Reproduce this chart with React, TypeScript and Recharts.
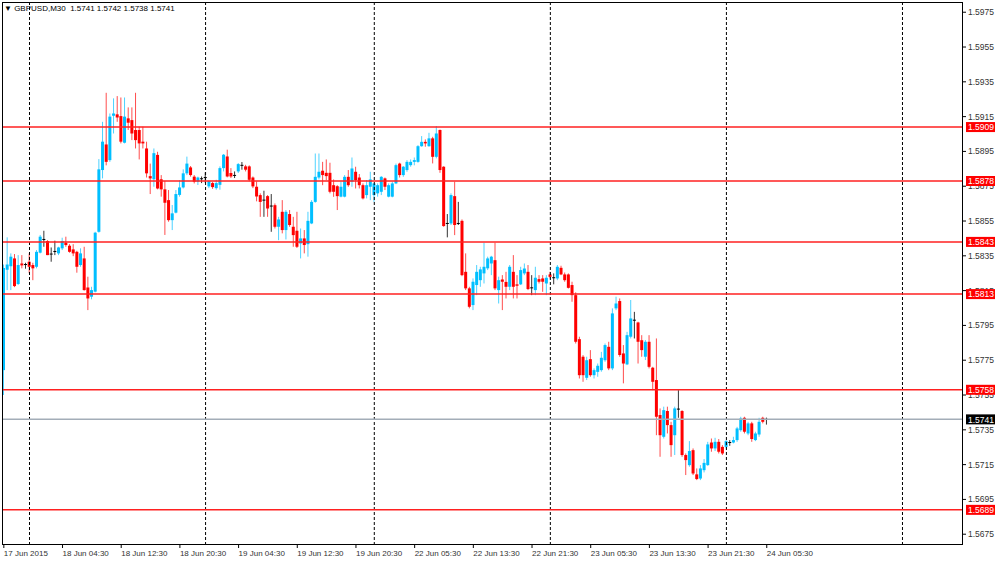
import React from 'react';
import { ComposedChart, Bar, XAxis, YAxis, ReferenceLine } from 'recharts';

const FONT = '"Liberation Sans", Arial, sans-serif';

// M30 bars, 17 Jun 2015 20:30 .. 24 Jun 2015 05:30
const open = [
  1.57693, 1.5827, 1.5829, 1.58335, 1.58188, 1.58306, 1.583, 1.58316, 1.58297, 1.58287,
  1.58368, 1.58444, 1.58435, 1.5836, 1.58375, 1.58364, 1.58393, 1.58425, 1.58408, 1.58387,
  1.58373, 1.58297, 1.58335, 1.58168, 1.58115, 1.58144, 1.58488, 1.58843, 1.5899, 1.589,
  1.59155, 1.59163, 1.59153, 1.59, 1.5914, 1.5913, 1.59073, 1.59073, 1.59006, 1.58967,
  1.58808, 1.5879, 1.5893, 1.5879, 1.58732, 1.5867, 1.58555, 1.58598, 1.587, 1.58743,
  1.58824, 1.58858, 1.58805, 1.58776, 1.58793, 1.588, 1.58749, 1.58768, 1.58739, 1.58758,
  1.58854, 1.58921, 1.58826, 1.58812, 1.58835, 1.5887, 1.58864, 1.58864, 1.588, 1.58747,
  1.58699, 1.5867, 1.58693, 1.58636, 1.58641, 1.58517, 1.58603, 1.58498, 1.5859, 1.58517,
  1.58494, 1.58421, 1.5845, 1.58417, 1.58536, 1.5866, 1.588, 1.58839, 1.58827, 1.58827,
  1.58756, 1.5875, 1.5869, 1.5869, 1.58804, 1.58776, 1.58833, 1.588, 1.58756, 1.58699,
  1.58747, 1.58699, 1.58709, 1.58718, 1.58795, 1.5869, 1.5869, 1.58766, 1.5888, 1.58814,
  1.58843, 1.58871, 1.5889, 1.5889, 1.5898, 1.59005, 1.5898, 1.59025, 1.58919, 1.59073,
  1.58862, 1.58536, 1.58536, 1.58693, 1.58536, 1.58551, 1.58258, 1.58163, 1.58067, 1.58182,
  1.5821, 1.58249, 1.58278, 1.58306, 1.58325, 1.58153, 1.58214, 1.582, 1.58172, 1.58258,
  1.58186, 1.58186, 1.58249, 1.58258, 1.58166, 1.58153, 1.58216, 1.5822, 1.58191, 1.58243,
  1.58224, 1.5822, 1.58281, 1.58243, 1.58243, 1.58182, 1.58124, 1.57871, 1.5777, 1.57649,
  1.57756, 1.57664, 1.57683, 1.57693, 1.5775, 1.57827, 1.57703, 1.58048, 1.5809, 1.57789,
  1.57726, 1.57885, 1.5798, 1.57967, 1.57865, 1.5777, 1.57856, 1.57707, 1.57636, 1.57435,
  1.5731, 1.57458, 1.57377, 1.57319, 1.57469, 1.57458, 1.57205, 1.57147, 1.57233, 1.57094,
  1.5707, 1.57118, 1.57147, 1.57277, 1.57243, 1.57281, 1.57252, 1.57252, 1.57277, 1.57277,
  1.57291, 1.57348, 1.57419, 1.57329, 1.57387, 1.57291, 1.57323, 1.57419, 1.5741,
];

const high = [
  1.583, 1.58456, 1.58364, 1.5836, 1.58354, 1.58354, 1.5831, 1.58364, 1.5831, 1.58383,
  1.5847, 1.58494, 1.5844, 1.58398, 1.58437, 1.58402, 1.58454, 1.5846, 1.58417, 1.58417,
  1.58379, 1.58393, 1.58402, 1.5823, 1.58172, 1.58488, 1.58906, 1.5912, 1.59287, 1.59168,
  1.59255, 1.59268, 1.5926, 1.5926, 1.59203, 1.59203, 1.59287, 1.59092, 1.59092, 1.59006,
  1.5888, 1.58967, 1.58948, 1.58814, 1.5878, 1.58728, 1.58642, 1.58728, 1.58785, 1.58847,
  1.5892, 1.58866, 1.58814, 1.58805, 1.58806, 1.5883, 1.58782, 1.58774, 1.58787, 1.58864,
  1.58935, 1.5896, 1.58854, 1.58835, 1.58883, 1.58889, 1.58873, 1.5887, 1.58806, 1.58778,
  1.58709, 1.58724, 1.58699, 1.58705, 1.58651, 1.58574, 1.5867, 1.58613, 1.58613, 1.58574,
  1.58603, 1.58507, 1.58498, 1.58603, 1.5867, 1.58938, 1.58938, 1.5889, 1.58904, 1.58885,
  1.58789, 1.58756, 1.58776, 1.58814, 1.58843, 1.58915, 1.58862, 1.5882, 1.58766, 1.58785,
  1.58833, 1.58766, 1.58766, 1.58808, 1.588, 1.58766, 1.58776, 1.5888, 1.58885, 1.58866,
  1.589, 1.58904, 1.58915, 1.58986, 1.59038, 1.59019, 1.59057, 1.59034, 1.59096, 1.59076,
  1.58865, 1.5859, 1.58709, 1.58776, 1.5866, 1.58559, 1.58364, 1.58172, 1.5822, 1.58297,
  1.58287, 1.58425, 1.58345, 1.5835, 1.58425, 1.5823, 1.58239, 1.58258, 1.58297, 1.58354,
  1.58239, 1.58287, 1.58306, 1.58297, 1.58239, 1.58287, 1.58239, 1.58239, 1.58239, 1.58258,
  1.58249, 1.58297, 1.58293, 1.58254, 1.58249, 1.58201, 1.5814, 1.57885, 1.57779, 1.5777,
  1.57808, 1.57703, 1.57731, 1.57798, 1.57846, 1.57856, 1.58048, 1.58115, 1.58105, 1.57837,
  1.57913, 1.58096, 1.58028, 1.57971, 1.57894, 1.57866, 1.57894, 1.57712, 1.57875, 1.57473,
  1.57483, 1.57483, 1.57396, 1.57483, 1.57578, 1.57463, 1.57214, 1.57285, 1.57243, 1.57128,
  1.57147, 1.57182, 1.57281, 1.573, 1.57304, 1.57297, 1.57262, 1.57291, 1.57291, 1.5731,
  1.57367, 1.57425, 1.57425, 1.57396, 1.57396, 1.57339, 1.57419, 1.57425, 1.5742,
];

const low = [
  1.5755, 1.58153, 1.58153, 1.5817, 1.58182, 1.58278, 1.58276, 1.5825, 1.5821, 1.58278,
  1.58364, 1.58402, 1.58354, 1.58316, 1.58354, 1.58354, 1.58383, 1.58402, 1.58368, 1.58348,
  1.58253, 1.58287, 1.5815, 1.58038, 1.581, 1.5814, 1.58483, 1.58795, 1.5887, 1.5889,
  1.59053, 1.5912, 1.58996, 1.58996, 1.59073, 1.59015, 1.58967, 1.58904, 1.58967, 1.588,
  1.58705, 1.58747, 1.58732, 1.5869, 1.5847, 1.58546, 1.58498, 1.58594, 1.5869, 1.58737,
  1.58814, 1.58805, 1.58766, 1.58757, 1.58768, 1.5877, 1.58739, 1.58735, 1.5873, 1.5873,
  1.58835, 1.58801, 1.58797, 1.58797, 1.58826, 1.58845, 1.58835, 1.58778, 1.58739, 1.58663,
  1.58574, 1.58574, 1.58574, 1.58488, 1.58507, 1.5844, 1.58479, 1.58444, 1.58517, 1.58402,
  1.58395, 1.58335, 1.58364, 1.58345, 1.58532, 1.58655, 1.58789, 1.58756, 1.58785, 1.58709,
  1.58689, 1.58613, 1.58686, 1.58686, 1.58747, 1.58747, 1.58737, 1.58737, 1.58674, 1.5868,
  1.5867, 1.5866, 1.5869, 1.58699, 1.58728, 1.58686, 1.58686, 1.58762, 1.588, 1.58804,
  1.58833, 1.58862, 1.5887, 1.58885, 1.58977, 1.58977, 1.58977, 1.58881, 1.5891, 1.58827,
  1.58517, 1.58456, 1.58527, 1.58469, 1.58527, 1.58233, 1.58153, 1.58048, 1.58038, 1.58124,
  1.58172, 1.58191, 1.58268, 1.58239, 1.58153, 1.58076, 1.58038, 1.58105, 1.58153, 1.58105,
  1.58105, 1.58182, 1.58239, 1.58153, 1.58124, 1.58124, 1.58191, 1.58143, 1.58124, 1.5822,
  1.58186, 1.5821, 1.58239, 1.58201, 1.58162, 1.58086, 1.57846, 1.57645, 1.57626, 1.57636,
  1.57655, 1.57645, 1.57655, 1.57684, 1.57741, 1.57693, 1.57693, 1.58038, 1.5777, 1.57617,
  1.57722, 1.57875, 1.57875, 1.57731, 1.5777, 1.57751, 1.57703, 1.57578, 1.57319, 1.57195,
  1.573, 1.57329, 1.57195, 1.57205, 1.57419, 1.57195, 1.5709, 1.57138, 1.5709, 1.57061,
  1.57061, 1.57105, 1.57143, 1.57224, 1.57228, 1.57214, 1.57205, 1.57243, 1.57258, 1.57272,
  1.57281, 1.57339, 1.57329, 1.57319, 1.57281, 1.57285, 1.5731, 1.57387, 1.5738,
];

const close = [
  1.5828, 1.583, 1.58345, 1.58176, 1.58297, 1.58295, 1.583, 1.58287, 1.58278, 1.58373,
  1.5846, 1.58444, 1.58354, 1.5836, 1.58375, 1.58398, 1.58435, 1.58412, 1.58373, 1.58364,
  1.58287, 1.58364, 1.58153, 1.58105, 1.58153, 1.58483, 1.58847, 1.59006, 1.5889, 1.5915,
  1.59168, 1.59145, 1.59006, 1.5915, 1.59115, 1.59053, 1.59015, 1.58996, 1.58996, 1.58824,
  1.58795, 1.5894, 1.58737, 1.58732, 1.58655, 1.58555, 1.58594, 1.58705, 1.58743, 1.58824,
  1.5888, 1.58814, 1.58776, 1.588, 1.58793, 1.588, 1.58778, 1.58745, 1.58768, 1.58854,
  1.58931, 1.58806, 1.58806, 1.58812, 1.58877, 1.5887, 1.58845, 1.58787, 1.58749, 1.58691,
  1.5866, 1.5867, 1.58622, 1.58636, 1.58517, 1.58559, 1.58498, 1.58603, 1.58527, 1.58469,
  1.58402, 1.5845, 1.58412, 1.58551, 1.5866, 1.58804, 1.58833, 1.58814, 1.58808, 1.58718,
  1.58718, 1.58693, 1.58747, 1.58804, 1.58756, 1.58852, 1.58785, 1.58756, 1.5868, 1.58756,
  1.58789, 1.58766, 1.58756, 1.58804, 1.58747, 1.58756, 1.58766, 1.58871, 1.58814, 1.58862,
  1.5889, 1.5889, 1.589, 1.5898, 1.59005, 1.58996, 1.59025, 1.58919, 1.59053, 1.58843,
  1.58521, 1.58536, 1.58699, 1.58527, 1.58536, 1.58239, 1.58163, 1.58057, 1.58201, 1.58258,
  1.58272, 1.58287, 1.58335, 1.58345, 1.58163, 1.5821, 1.58201, 1.58172, 1.58287, 1.58172,
  1.58178, 1.58268, 1.58277, 1.58159, 1.58166, 1.58224, 1.58201, 1.58201, 1.58224, 1.58229,
  1.58224, 1.58287, 1.58243, 1.5821, 1.58166, 1.58124, 1.57856, 1.57664, 1.57664, 1.5775,
  1.57664, 1.57693, 1.57718, 1.57764, 1.57837, 1.57703, 1.58019, 1.58076, 1.5778, 1.57731,
  1.57894, 1.5799, 1.5798, 1.57856, 1.57808, 1.57856, 1.57712, 1.57626, 1.57425, 1.57319,
  1.57463, 1.57377, 1.57262, 1.57473, 1.57469, 1.57205, 1.57176, 1.57228, 1.57099, 1.57067,
  1.57128, 1.5716, 1.57266, 1.57243, 1.57281, 1.57224, 1.57214, 1.57285, 1.57277, 1.57291,
  1.57358, 1.57415, 1.57339, 1.57387, 1.57297, 1.57329, 1.57396, 1.57396, 1.5741,
];

// bar slots on the time axis (chart shift leaves empty slots on the right)
const totalSlots = 262;
const tickSlots = [0, 16, 32, 48, 64, 80, 96, 112, 128, 144, 160, 176, 192, 208];
const tickTexts = [
  '17 Jun 2015', '18 Jun 04:30', '18 Jun 12:30', '18 Jun 20:30', '19 Jun 04:30',
  '19 Jun 12:30', '19 Jun 20:30', '22 Jun 05:30', '22 Jun 13:30', '22 Jun 21:30',
  '23 Jun 05:30', '23 Jun 13:30', '23 Jun 21:30', '24 Jun 05:30',
];
const daySeparators = [7, 55, 101, 149, 197, 245];

const yTicks = [
  1.5675, 1.5695, 1.5715, 1.5735, 1.5755, 1.5775, 1.5795, 1.5815,
  1.5835, 1.5855, 1.5875, 1.5895, 1.5915, 1.5935, 1.5955, 1.5975,
];
const levels = [1.5909, 1.5878, 1.5843, 1.5813, 1.5758, 1.5689];
const bid = 1.5741;
const yMin = 1.56688;
const yMax = 1.59803;

const data = Array.from({ length: totalSlots }, (_, i) =>
  i < open.length
    ? { slot: i, open: open[i], high: high[i], low: low[i], close: close[i] }
    : { slot: i }
);

const BULL = '#00bfff';
const BEAR = '#ff0000';

const Candle = (props: any) => {
  const { x, y, width, height, payload } = props;
  if (!payload || payload.high == null) return null;
  const { open: o, close: c, high: h, low: l } = payload;
  const top = height < 0 ? y + height : y;
  const span = Math.abs(height);
  const py = (v: number) => top + ((h - v) / (h - l)) * span;
  const cx = x + width / 2;
  const flat = o === c;
  const color = flat ? '#000' : c > o ? BULL : BEAR;
  const bTop = py(Math.max(o, c));
  const bBot = py(Math.min(o, c));
  return (
    <g>
      <line x1={cx} x2={cx} y1={top} y2={top + span} stroke={color} strokeOpacity={flat ? 0.8 : 0.7} strokeWidth={1} />
      {flat ? (
        <line x1={cx - 1.5} x2={cx + 1.5} y1={bTop} y2={bTop} stroke={color} strokeWidth={1} />
      ) : (
        <rect x={cx - 1.5} y={bTop} width={3} height={Math.max(1, bBot - bTop)} fill={color} />
      )}
    </g>
  );
};

const TimeTick = (props: any) => {
  const { x, y, payload } = props;
  const idx = tickSlots.indexOf(payload.value);
  return (
    <text x={x} y={y + 6} fontSize={8} fill="#333" fontFamily={FONT} textAnchor="start">
      {idx >= 0 ? tickTexts[idx] : ''}
    </text>
  );
};

// price scale: plain ticks first, then the tagged levels so the tags sit on top
const PriceTick = (props: any) => {
  const { x, y, payload } = props;
  const v: number = payload.value;
  const isLevel = levels.includes(v);
  const isBid = v === bid;
  if (isLevel || isBid) {
    const left = x - 2;
    return (
      <g>
        <rect x={left} y={y - 5} width={29} height={10} fill={isBid ? '#000' : '#ff0000'} />
        <text x={left + 2} y={y + 3.2} fontSize={8.5} fill="#fff" fontFamily={FONT}>
          {v.toFixed(4)}
        </text>
      </g>
    );
  }
  return (
    <g>
      <line x1={x - 5} x2={x - 2} y1={y} y2={y} stroke="#000" />
      <text x={x} y={y + 3} fontSize={8.5} fill="#333" fontFamily={FONT}>
        {v.toFixed(4)}
      </text>
    </g>
  );
};

export default function App() {
  return (
    <div style={{ position: 'absolute', left: 0, top: 0, width: 1000, height: 561, background: '#fff', overflow: 'hidden' }}>
      <ComposedChart
        width={1000}
        height={561}
        data={data}
        margin={{ top: 3, right: 0, left: 2, bottom: 0 }}
        barCategoryGap={0}
      >
        <XAxis
          dataKey="slot"
          type="category"
          ticks={tickSlots}
          interval={0}
          height={16}
          tickSize={3}
          axisLine={false}
          tickLine={{ stroke: '#000' }}
          tick={TimeTick}
        />
        <YAxis
          orientation="right"
          type="number"
          width={37}
          domain={[yMin, yMax]}
          allowDataOverflow
          ticks={[...yTicks, ...levels, bid]}
          interval={0}
          tickSize={3}
          tickMargin={2}
          axisLine={false}
          tickLine={false}
          tick={PriceTick}
        />
        {daySeparators.map((s) => (
          <ReferenceLine key={'d' + s} x={s} stroke="#000" strokeDasharray="3 2" strokeWidth={1} />
        ))}
        {levels.map((lv) => (
          <ReferenceLine key={'l' + lv} y={lv} stroke="#ff2020" strokeWidth={1.5} />
        ))}
        <ReferenceLine y={bid} stroke="#a3adb8" strokeWidth={1.5} />
        <Bar
          dataKey={(d: any) => (d.high == null ? null : [d.low, d.high])}
          barSize={3}
          shape={Candle}
          isAnimationActive={false}
        />
      </ComposedChart>
      <div style={{ position: 'absolute', left: 2, top: 2, width: 961, height: 543, border: '1px solid #000', boxSizing: 'border-box', pointerEvents: 'none' }} />
      <div style={{ position: 'absolute', left: 4, top: 4, fontFamily: FONT, fontSize: 8, color: '#000', whiteSpace: 'pre', lineHeight: '10px' }}>
        {'\u25BC GBPUSD,M30  1.5741 1.5742 1.5738 1.5741'}
      </div>
    </div>
  );
}
